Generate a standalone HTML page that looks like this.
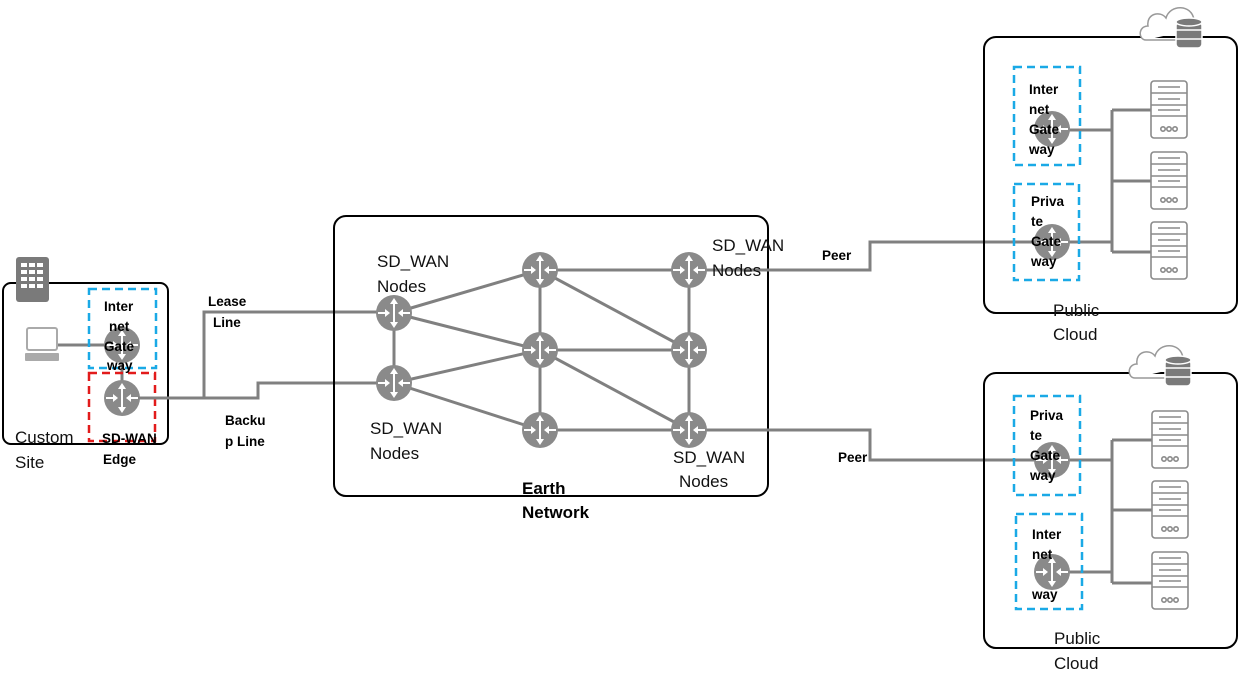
<!DOCTYPE html>
<html><head><meta charset="utf-8"><style>
html,body{margin:0;padding:0;background:#fff;}
svg{display:block;}
text{font-family:"Liberation Sans",sans-serif;}
.n{font-size:17px;fill:#111;}
.b{font-size:13.5px;font-weight:bold;fill:#000;}
.bb{font-size:17px;font-weight:bold;fill:#000;}
</style></head><body>
<svg width="1239" height="684" viewBox="0 0 1239 684" xmlns="http://www.w3.org/2000/svg">
<defs>
<g id="r">
<circle r="18" fill="#8a8a8a"/>
<g stroke="#fff" stroke-width="2" fill="#fff">
<line x1="0" y1="-13" x2="0" y2="13"/>
<polygon points="0,-15 -4,-9 4,-9" stroke="none"/>
<polygon points="0,15 -4,9 4,9" stroke="none"/>
<line x1="-16" y1="0" x2="-8" y2="0"/>
<polygon points="-4,0 -9,-4 -9,4" stroke="none"/>
<line x1="16" y1="0" x2="8" y2="0"/>
<polygon points="4,0 9,-4 9,4" stroke="none"/>
</g>
</g>
<g id="s" fill="none" stroke="#8a8a8a" stroke-width="1.6">
<rect x="0" y="0" width="36" height="57" rx="3"/>
<line x1="0" y1="12" x2="36" y2="12"/>
<line x1="0" y1="24" x2="36" y2="24"/>
<line x1="0" y1="35" x2="36" y2="35"/>
<line x1="7" y1="6" x2="29" y2="6"/>
<line x1="7" y1="18" x2="29" y2="18"/>
<line x1="7" y1="29" x2="29" y2="29"/>
<circle cx="12" cy="48" r="2.2"/><circle cx="18" cy="48" r="2.2"/><circle cx="24" cy="48" r="2.2"/>
</g>
<g id="c">
<path d="M4,38 C-4,38 -4,24 6,24 C4,12 18,8 24,16 C28,2 50,2 52,18 C56,18 58,22 56,26" fill="#fff" stroke="#999" stroke-width="1.5"/>
<path d="M4,38 L40,38" stroke="#999" stroke-width="1.5"/>
<g fill="#7a7a7a" stroke="#fff" stroke-width="1.5">
<rect x="34" y="20" width="26" height="26" rx="4"/>
<line x1="34" y1="28" x2="60" y2="28"/><line x1="34" y1="37" x2="60" y2="37"/>
<ellipse cx="47" cy="20" rx="13" ry="4"/>
</g>
</g>
</defs>

<!-- Custom site -->
<rect x="3" y="283" width="165" height="161" rx="8" fill="none" stroke="#000" stroke-width="2"/>
<rect x="16" y="257" width="33" height="45" rx="3" fill="#7a7a7a"/>
<g fill="#fff">
<rect x="21" y="263" width="6" height="4"/><rect x="29" y="263" width="6" height="4"/><rect x="37" y="263" width="6" height="4"/>
<rect x="21" y="270" width="6" height="4"/><rect x="29" y="270" width="6" height="4"/><rect x="37" y="270" width="6" height="4"/>
<rect x="21" y="277" width="6" height="4"/><rect x="29" y="277" width="6" height="4"/><rect x="37" y="277" width="6" height="4"/>
<rect x="21" y="284" width="6" height="4"/><rect x="29" y="284" width="6" height="4"/><rect x="37" y="284" width="6" height="4"/>
</g>
<rect x="27" y="328" width="30" height="22" rx="2" fill="#fff" stroke="#aaa" stroke-width="2"/>
<rect x="25" y="353" width="34" height="8" rx="1" fill="#aaa"/>
<line x1="58" y1="345" x2="110" y2="345" stroke="#808080" stroke-width="3"/>
<line x1="122" y1="360" x2="122" y2="385" stroke="#808080" stroke-width="3"/>
<use href="#r" x="122" y="345"/>
<use href="#r" x="122" y="398"/>
<rect x="89" y="289" width="67" height="79" fill="none" stroke="#1aa9e6" stroke-width="2.5" stroke-dasharray="8,5"/>
<rect x="89" y="373" width="66" height="68" fill="none" stroke="#e21b1b" stroke-width="2.5" stroke-dasharray="8,5"/>
<text class="b" x="104" y="311">Inter</text>
<text class="b" x="109" y="331">net</text>
<text class="b" x="104" y="351">Gate</text>
<text class="b" x="107" y="370">way</text>
<text class="n" x="15" y="443">Custom</text>
<text class="n" x="15" y="468">Site</text>
<text class="b" x="102" y="443">SD-WAN</text>
<text class="b" x="103" y="464">Edge</text>

<!-- links to network -->
<g fill="none" stroke="#808080" stroke-width="3">
<polyline points="138,398 258,398 258,383 380,383"/>
<polyline points="204,398 204,312 380,312"/>
</g>
<text class="b" x="208" y="306">Lease</text>
<text class="b" x="213" y="327">Line</text>
<text class="b" x="225" y="425">Backu</text>
<text class="b" x="225" y="446">p Line</text>

<!-- Earth network -->
<rect x="334" y="216" width="434" height="280" rx="12" fill="none" stroke="#000" stroke-width="2"/>
<g stroke="#808080" stroke-width="3">
<line x1="394" y1="313" x2="540" y2="270"/>
<line x1="394" y1="313" x2="540" y2="350"/>
<line x1="394" y1="313" x2="394" y2="383"/>
<line x1="394" y1="383" x2="540" y2="350"/>
<line x1="394" y1="383" x2="540" y2="430"/>
<line x1="540" y1="270" x2="540" y2="430"/>
<line x1="540" y1="270" x2="689" y2="270"/>
<line x1="540" y1="270" x2="689" y2="350"/>
<line x1="540" y1="350" x2="689" y2="350"/>
<line x1="540" y1="350" x2="689" y2="430"/>
<line x1="540" y1="430" x2="689" y2="430"/>
<line x1="689" y1="270" x2="689" y2="430"/>
</g>
<g fill="none" stroke="#808080" stroke-width="3">
<polyline points="689,270 870,270 870,242 1052,242"/>
<polyline points="689,430 870,430 870,460 1052,460"/>
</g>
<use href="#r" x="394" y="313"/>
<use href="#r" x="394" y="383"/>
<use href="#r" x="540" y="270"/>
<use href="#r" x="540" y="350"/>
<use href="#r" x="540" y="430"/>
<use href="#r" x="689" y="270"/>
<use href="#r" x="689" y="350"/>
<use href="#r" x="689" y="430"/>
<text class="n" x="377" y="267">SD_WAN</text>
<text class="n" x="377" y="292">Nodes</text>
<text class="n" x="712" y="251">SD_WAN</text>
<text class="n" x="712" y="276">Nodes</text>
<text class="n" x="370" y="434">SD_WAN</text>
<text class="n" x="370" y="459">Nodes</text>
<text class="n" x="673" y="463">SD_WAN</text>
<text class="n" x="679" y="487">Nodes</text>
<text class="bb" x="522" y="494">Earth</text>
<text class="bb" x="522" y="518">Network</text>
<text class="b" x="822" y="260">Peer</text>
<text class="b" x="838" y="462">Peer</text>

<!-- Top public cloud -->
<rect x="984" y="37" width="253" height="276" rx="12" fill="none" stroke="#000" stroke-width="2"/>
<use href="#c" x="1142" y="2"/>
<g fill="none" stroke="#808080" stroke-width="3">
<line x1="1060" y1="130" x2="1112" y2="130"/>
<line x1="1112" y1="110" x2="1112" y2="252"/>
<line x1="1112" y1="110" x2="1151" y2="110"/>
<line x1="1112" y1="181" x2="1151" y2="181"/>
<line x1="1112" y1="252" x2="1151" y2="252"/>
<line x1="1060" y1="242" x2="1112" y2="242"/>
</g>
<use href="#s" x="1151" y="81"/>
<use href="#s" x="1151" y="152"/>
<use href="#s" x="1151" y="222"/>
<use href="#r" x="1052" y="129"/>
<use href="#r" x="1052" y="242"/>
<rect x="1014" y="67" width="66" height="98" fill="none" stroke="#1aa9e6" stroke-width="2.5" stroke-dasharray="8,5"/>
<rect x="1014" y="184" width="65" height="96" fill="none" stroke="#1aa9e6" stroke-width="2.5" stroke-dasharray="8,5"/>
<text class="b" x="1029" y="94">Inter</text>
<text class="b" x="1029" y="114">net</text>
<text class="b" x="1029" y="134">Gate</text>
<text class="b" x="1029" y="154">way</text>
<text class="b" x="1031" y="206">Priva</text>
<text class="b" x="1031" y="226">te</text>
<text class="b" x="1031" y="246">Gate</text>
<text class="b" x="1031" y="266">way</text>
<text class="n" x="1053" y="316">Public</text>
<text class="n" x="1053" y="340">Cloud</text>

<!-- Bottom public cloud -->
<rect x="984" y="373" width="253" height="275" rx="12" fill="none" stroke="#000" stroke-width="2"/>
<use href="#c" x="1131" y="340"/>
<g fill="none" stroke="#808080" stroke-width="3">
<line x1="1112" y1="440" x2="1112" y2="583"/>
<line x1="1112" y1="440" x2="1152" y2="440"/>
<line x1="1060" y1="460" x2="1112" y2="460"/>
<line x1="1112" y1="510" x2="1152" y2="510"/>
<line x1="1060" y1="572" x2="1112" y2="572"/>
<line x1="1112" y1="583" x2="1152" y2="583"/>
</g>
<use href="#s" x="1152" y="411"/>
<use href="#s" x="1152" y="481"/>
<use href="#s" x="1152" y="552"/>
<use href="#r" x="1052" y="460"/>
<use href="#r" x="1052" y="572"/>
<rect x="1014" y="396" width="66" height="99" fill="none" stroke="#1aa9e6" stroke-width="2.5" stroke-dasharray="8,5"/>
<rect x="1016" y="514" width="66" height="95" fill="none" stroke="#1aa9e6" stroke-width="2.5" stroke-dasharray="8,5"/>
<text class="b" x="1030" y="420">Priva</text>
<text class="b" x="1030" y="440">te</text>
<text class="b" x="1030" y="460">Gate</text>
<text class="b" x="1030" y="480">way</text>
<text class="b" x="1032" y="539">Inter</text>
<text class="b" x="1032" y="559">net</text>
<text class="b" x="1032" y="599">way</text>
<text class="n" x="1054" y="644">Public</text>
<text class="n" x="1054" y="669">Cloud</text>
</svg>
</body></html>
